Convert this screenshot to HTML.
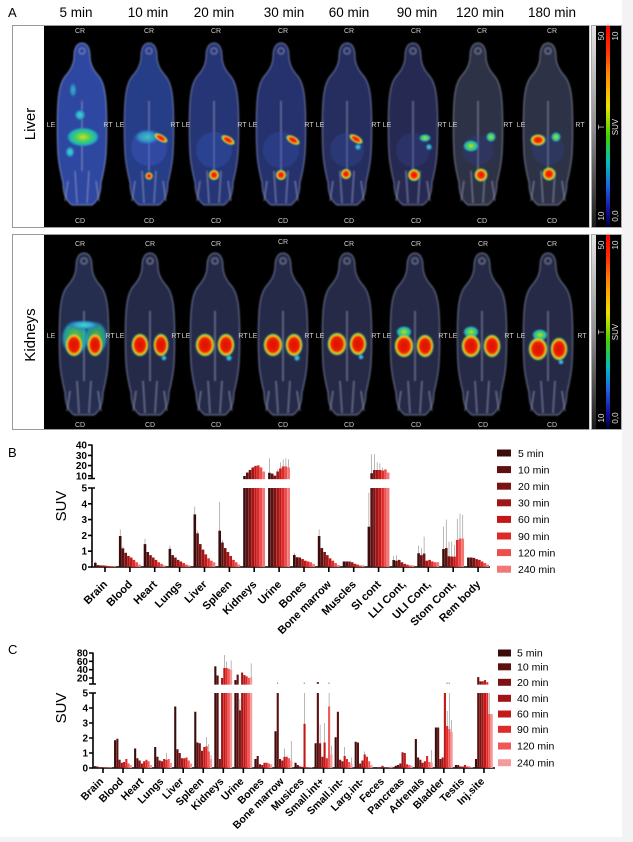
<!DOCTYPE html>
<html><head><meta charset="utf-8"><style>
html,body{margin:0;padding:0;background:#fff}
svg{display:block}
.c0{fill:#3a0c0c}.c1{fill:#5e1010}.c2{fill:#7c1212}.c3{fill:#a01515}.c4{fill:#c41818}.c5{fill:#df2a2a}.c6{fill:#ec4e4e}.c7{fill:#f27878}
.d0{fill:#3a0c0c}.d1{fill:#5e1010}.d2{fill:#7c1212}.d3{fill:#a01515}.d4{fill:#c41818}.d5{fill:#df2a2a}.d6{fill:#ee5858}.d7{fill:#f59a9a}
.e{fill:#8a8a8a}
.lb{font-size:7px;fill:#cfcfcf;text-anchor:middle}
.tk{font-size:10px;font-weight:bold;text-anchor:end}
.xl{font-size:11px;font-weight:bold;text-anchor:end}
.xc{font-size:10.5px;font-weight:bold;text-anchor:end}
.lg{font-size:10.5px}
.cb{font-size:8px;fill:#e0e0e0;text-anchor:middle}
</style></head><body>
<svg width="633" height="842" viewBox="0 0 633 842" xmlns="http://www.w3.org/2000/svg" font-family="Liberation Sans, Arial, sans-serif">
<defs>
<path id="m" d="M0,0 C5,0 8,5 8,13 C8,19 10,25 15,31 C21,37 23,46 24,58 C25,72 25,96 24,112 C23,124 21,132 19,140 C19,150 16,158 10,162 L-10,162 C-16,158 -19,150 -19,140 C-21,132 -23,124 -24,112 C-25,96 -25,72 -24,58 C-23,46 -21,37 -15,31 C-10,25 -8,19 -8,13 C-8,5 -5,0 0,0Z"/>
<g id="bn" fill="none" stroke="#a8aed0" stroke-width="1.3" opacity=".5"><path d="M-7,128 L-5,160 M7,128 L5,160 M0,58 L0,128 M-14,138 L-17,158 M14,138 L17,158 M-3,8 a3,3 0 1,0 6,0 a3,3 0 1,0 -6,0"/></g>
<filter id="b1" x="-20%" y="-20%" width="140%" height="140%"><feGaussianBlur stdDeviation="0.9"/></filter>
<filter id="b2" x="-50%" y="-50%" width="200%" height="200%"><feGaussianBlur stdDeviation="0.7"/></filter>
<radialGradient id="hot"><stop offset="0" stop-color="#e81400"/><stop offset=".5" stop-color="#ff2a00"/><stop offset=".68" stop-color="#ffc000"/><stop offset=".84" stop-color="#70e050"/><stop offset="1" stop-color="#2090c0" stop-opacity="0"/></radialGradient>
<radialGradient id="hotK"><stop offset="0" stop-color="#d81200"/><stop offset=".62" stop-color="#f02000"/><stop offset=".74" stop-color="#ffb000"/><stop offset=".86" stop-color="#90e040"/><stop offset="1" stop-color="#2070c0" stop-opacity="0"/></radialGradient>
<radialGradient id="grn"><stop offset="0" stop-color="#d0e020"/><stop offset=".45" stop-color="#40d060"/><stop offset=".8" stop-color="#20b0c0"/><stop offset="1" stop-color="#2060c0" stop-opacity="0"/></radialGradient>
<radialGradient id="cy"><stop offset="0" stop-color="#40e0c0"/><stop offset=".6" stop-color="#30a0d0"/><stop offset="1" stop-color="#2050c0" stop-opacity="0"/></radialGradient>
<linearGradient id="gr" x1="0" y1="0" x2="0" y2="1"><stop offset="0" stop-color="#e6e6e6"/><stop offset=".5" stop-color="#909090"/><stop offset="1" stop-color="#1a1a1a"/></linearGradient>
<linearGradient id="suv" x1="0" y1="0" x2="0" y2="1"><stop offset="0" stop-color="#ff0000"/><stop offset=".12" stop-color="#ff3000"/><stop offset=".25" stop-color="#ff9000"/><stop offset=".4" stop-color="#f0e000"/><stop offset=".55" stop-color="#40d000"/><stop offset=".68" stop-color="#00c0c0"/><stop offset=".8" stop-color="#2060e0"/><stop offset=".92" stop-color="#1010a0"/><stop offset="1" stop-color="#000030"/></linearGradient>
</defs>
<rect width="633" height="842" fill="#fff"/>
<rect x="622" y="0" width="11" height="842" fill="#f3f3f3"/>
<rect x="0" y="837" width="633" height="5" fill="#f3f3f3"/>

<!-- Panel A header -->
<text x="8" y="17" font-size="13">A</text>
<g font-size="13.5" text-anchor="middle">
<text x="76" y="17">5 min</text><text x="148" y="17">10 min</text><text x="214" y="17">20 min</text><text x="284" y="17">30 min</text><text x="349" y="17">60 min</text><text x="417" y="17">90 min</text><text x="480" y="17">120 min</text><text x="552" y="17">180 min</text>
</g>

<!-- Liver box -->
<rect x="12.5" y="25.5" width="576.5" height="202" fill="#fff" stroke="#999"/>
<rect x="44" y="26" width="545" height="201" fill="#000"/>
<text transform="translate(35,124) rotate(-90)" text-anchor="middle" font-size="15">Liver</text>
<g filter="url(#b1)">
<use href="#m" x="82" y="43" fill="#2f46a0" stroke="#90a0e0" stroke-width="1.4" stroke-opacity=".55"/>
<use href="#m" x="149" y="43" fill="#283c88" stroke="#8a96d0" stroke-width="1.4" stroke-opacity=".5"/>
<use href="#m" x="214" y="43" fill="#263676" stroke="#8a96d0" stroke-width="1.4" stroke-opacity=".5"/>
<use href="#m" x="281" y="43" fill="#25336e" stroke="#8a96d0" stroke-width="1.4" stroke-opacity=".5"/>
<use href="#m" x="347" y="43" fill="#252e60" stroke="#8a96c8" stroke-width="1.4" stroke-opacity=".5"/>
<use href="#m" x="413" y="43" fill="#272b52" stroke="#8a90b8" stroke-width="1.4" stroke-opacity=".5"/>
<use href="#m" x="478" y="43" fill="#2d3046" stroke="#9096b0" stroke-width="1.4" stroke-opacity=".5"/>
<use href="#m" x="548" y="43" fill="#2f3246" stroke="#9096b0" stroke-width="1.4" stroke-opacity=".5"/>
<use href="#bn" x="82" y="43"/><use href="#bn" x="149" y="43"/><use href="#bn" x="214" y="43"/><use href="#bn" x="281" y="43"/>
<use href="#bn" x="347" y="43"/><use href="#bn" x="413" y="43"/><use href="#bn" x="478" y="43"/><use href="#bn" x="548" y="43"/>
<ellipse cx="149" cy="148" rx="18" ry="18" fill="#3d60c8" opacity=".4"/>
<ellipse cx="214" cy="150" rx="18" ry="18" fill="#3a58c0" opacity=".35"/>
<ellipse cx="281" cy="150" rx="18" ry="18" fill="#3855b8" opacity=".3"/>
<ellipse cx="347" cy="150" rx="17" ry="17" fill="#3550b0" opacity=".28"/>
<ellipse cx="413" cy="150" rx="17" ry="17" fill="#3048a8" opacity=".25"/>
<ellipse cx="478" cy="150" rx="16" ry="15" fill="#3048a8" opacity=".25"/>
<ellipse cx="548" cy="150" rx="16" ry="15" fill="#3048a8" opacity=".25"/>
</g>
<g filter="url(#b2)">
<ellipse cx="83" cy="137" rx="17" ry="10" fill="url(#grn)"/>
<ellipse cx="70" cy="152" rx="5" ry="6" fill="url(#cy)"/>
<ellipse cx="80" cy="115" rx="6" ry="6" fill="url(#cy)"/>
<ellipse cx="73" cy="90" rx="4" ry="8" fill="url(#cy)" opacity=".7"/>
<ellipse cx="147" cy="137" rx="14" ry="8" fill="url(#cy)" opacity=".8"/>
<ellipse cx="161" cy="138" rx="8" ry="3.6" fill="url(#hot)" transform="rotate(30 161 138)"/>
<circle cx="149" cy="176" r="4" fill="url(#hot)"/>
<ellipse cx="228" cy="140" rx="8" ry="4" fill="url(#hot)" transform="rotate(30 228 140)"/>
<circle cx="214" cy="175" r="5.5" fill="url(#hot)"/>
<ellipse cx="293" cy="140" rx="8" ry="4" fill="url(#hot)" transform="rotate(30 293 140)"/>
<circle cx="281" cy="175" r="5.5" fill="url(#hot)"/>
<ellipse cx="356" cy="139" rx="8" ry="3.8" fill="url(#hot)" transform="rotate(30 356 139)"/>
<circle cx="358" cy="147" r="3.5" fill="url(#cy)"/>
<circle cx="346" cy="174" r="5.5" fill="url(#hot)"/>
<ellipse cx="425" cy="138" rx="6" ry="4" fill="url(#grn)"/>
<circle cx="429" cy="147" r="3.5" fill="url(#cy)"/>
<circle cx="414" cy="175" r="6.5" fill="url(#hot)"/>
<ellipse cx="471" cy="146" rx="8" ry="6" fill="url(#grn)"/>
<ellipse cx="491" cy="137" rx="5" ry="5" fill="url(#grn)"/>
<circle cx="481" cy="175" r="7" fill="url(#hot)"/>
<ellipse cx="538" cy="140" rx="8" ry="6" fill="url(#hot)"/>
<ellipse cx="556" cy="137" rx="5" ry="5" fill="url(#grn)"/>
<circle cx="549" cy="174" r="7" fill="url(#hot)"/>
</g>
<g class="lb">
<text x="80" y="33">CR</text><text x="149" y="33">CR</text><text x="216" y="33">CR</text><text x="283" y="33">CR</text><text x="349" y="33">CR</text><text x="416" y="33">CR</text><text x="482" y="33">CR</text><text x="552" y="33">CR</text>
<text x="80" y="223">CD</text><text x="149" y="223">CD</text><text x="216" y="223">CD</text><text x="283" y="223">CD</text><text x="349" y="223">CD</text><text x="416" y="223">CD</text><text x="482" y="223">CD</text><text x="552" y="223">CD</text>
<text x="51" y="127">LE</text><text x="108" y="127">RT</text><text x="120" y="127">LE</text><text x="175" y="127">RT</text><text x="186" y="127">LE</text><text x="242" y="127">RT</text><text x="253" y="127">LE</text><text x="309" y="127">RT</text>
<text x="320" y="127">LE</text><text x="376" y="127">RT</text><text x="387" y="127">LE</text><text x="442" y="127">RT</text><text x="453" y="127">LE</text><text x="508" y="127">RT</text><text x="521" y="127">LE</text><text x="580" y="127">RT</text>
</g>

<!-- Liver colorbar -->
<rect x="591.5" y="25.5" width="30" height="202" fill="#000" stroke="#aaa"/>
<rect x="592" y="26" width="4" height="201" fill="url(#gr)"/>
<rect x="606" y="26" width="4" height="201" fill="url(#suv)"/>
<g class="cb">
<text transform="translate(604,36) rotate(-90)">50</text><text transform="translate(604,127) rotate(-90)">T</text><text transform="translate(604,216) rotate(-90)">10</text>
<text transform="translate(618,36) rotate(-90)">10</text><text transform="translate(618,127) rotate(-90)">SUV</text><text transform="translate(618,216) rotate(-90)">0,0</text>
</g>

<!-- Kidney box -->
<rect x="12.5" y="234.5" width="576.5" height="195" fill="#fff" stroke="#999"/>
<rect x="44" y="235" width="545" height="194" fill="#000"/>
<text transform="translate(35,335) rotate(-90)" text-anchor="middle" font-size="15">Kidneys</text>
<g filter="url(#b1)">
<use href="#m" x="84" y="253" fill="#282e50" stroke="#8088b0" stroke-width="1.4" stroke-opacity=".55"/>
<use href="#m" x="150" y="253" fill="#272c4a" stroke="#8088b0" stroke-width="1.4" stroke-opacity=".55"/>
<use href="#m" x="215" y="253" fill="#272c4a" stroke="#8088b0" stroke-width="1.4" stroke-opacity=".55"/>
<use href="#m" x="283" y="253" fill="#272c4a" stroke="#8088b0" stroke-width="1.4" stroke-opacity=".55"/>
<use href="#m" x="347" y="253" fill="#262a46" stroke="#8088a8" stroke-width="1.4" stroke-opacity=".55"/>
<use href="#m" x="415" y="253" fill="#262a46" stroke="#8088a8" stroke-width="1.4" stroke-opacity=".55"/>
<use href="#m" x="482" y="253" fill="#262a46" stroke="#8088a8" stroke-width="1.4" stroke-opacity=".55"/>
<use href="#m" x="548" y="253" fill="#262a46" stroke="#8088a8" stroke-width="1.4" stroke-opacity=".55"/>
<use href="#bn" x="84" y="253"/><use href="#bn" x="150" y="253"/><use href="#bn" x="215" y="253"/><use href="#bn" x="283" y="253"/>
<use href="#bn" x="347" y="253"/><use href="#bn" x="415" y="253"/><use href="#bn" x="482" y="253"/><use href="#bn" x="548" y="253"/>
</g>
<g filter="url(#b2)">
<ellipse cx="75" cy="338" rx="14" ry="18" fill="url(#grn)" opacity=".8"/>
<ellipse cx="96" cy="338" rx="12" ry="17" fill="url(#grn)" opacity=".7"/>
<ellipse cx="84" cy="325" rx="16" ry="5" fill="url(#cy)"/>
<ellipse cx="74" cy="345" rx="9" ry="12" fill="url(#hotK)"/>
<ellipse cx="95" cy="345" rx="8" ry="12" fill="url(#hotK)"/>
<ellipse cx="140" cy="345" rx="9" ry="12" fill="url(#hotK)"/>
<ellipse cx="161" cy="345" rx="8" ry="12" fill="url(#hotK)"/>
<circle cx="164" cy="358" r="3" fill="url(#cy)"/>
<ellipse cx="205" cy="345" rx="10" ry="12" fill="url(#hotK)"/>
<ellipse cx="226" cy="345" rx="9" ry="12" fill="url(#hotK)"/>
<circle cx="229" cy="358" r="3.5" fill="url(#cy)"/>
<ellipse cx="273" cy="345" rx="10" ry="12" fill="url(#hotK)"/>
<ellipse cx="294" cy="345" rx="9" ry="12" fill="url(#hotK)"/>
<circle cx="297" cy="358" r="3.5" fill="url(#cy)"/>
<ellipse cx="337" cy="344" rx="10" ry="12" fill="url(#hotK)"/>
<ellipse cx="358" cy="344" rx="9" ry="12" fill="url(#hotK)"/>
<circle cx="361" cy="357" r="3" fill="url(#cy)"/>
<ellipse cx="404" cy="332" rx="8" ry="6" fill="url(#grn)"/>
<ellipse cx="404" cy="346" rx="10" ry="12" fill="url(#hotK)"/>
<ellipse cx="425" cy="346" rx="9" ry="12" fill="url(#hotK)"/>
<ellipse cx="471" cy="332" rx="8" ry="6" fill="url(#grn)"/>
<ellipse cx="471" cy="346" rx="10" ry="12" fill="url(#hotK)"/>
<ellipse cx="492" cy="346" rx="9" ry="12" fill="url(#hotK)"/>
<ellipse cx="540" cy="335" rx="8" ry="6" fill="url(#grn)"/>
<ellipse cx="538" cy="349" rx="10" ry="12" fill="url(#hotK)"/>
<ellipse cx="559" cy="349" rx="9" ry="12" fill="url(#hotK)"/>
<circle cx="561" cy="362" r="3" fill="url(#cy)"/>
</g>
<g class="lb">
<text x="80" y="246">CR</text><text x="150" y="246">CR</text><text x="216" y="246">CR</text><text x="283" y="244">CR</text><text x="349" y="246">CR</text><text x="416" y="246">CR</text><text x="483" y="246">CR</text><text x="552" y="246">CR</text>
<text x="80" y="427">CD</text><text x="150" y="427">CD</text><text x="216" y="427">CD</text><text x="283" y="427">CD</text><text x="349" y="427">CD</text><text x="416" y="427">CD</text><text x="483" y="427">CD</text><text x="552" y="427">CD</text>
<text x="51" y="338">LE</text><text x="110" y="338">RT</text><text x="120" y="338">LE</text><text x="176" y="338">RT</text><text x="186" y="338">LE</text><text x="243" y="338">RT</text><text x="253" y="338">LE</text><text x="309" y="338">RT</text>
<text x="320" y="338">LE</text><text x="376" y="338">RT</text><text x="387" y="338">LE</text><text x="443" y="338">RT</text><text x="453" y="338">LE</text><text x="509" y="338">RT</text><text x="521" y="338">LE</text><text x="582" y="338">RT</text>
</g>
<!-- Kidney colorbar -->
<rect x="591.5" y="234.5" width="30" height="195" fill="#000" stroke="#aaa"/>
<rect x="592" y="235" width="4" height="194" fill="url(#gr)"/>
<rect x="606" y="235" width="4" height="194" fill="url(#suv)"/>
<g class="cb">
<text transform="translate(604,245) rotate(-90)">50</text><text transform="translate(604,332) rotate(-90)">T</text><text transform="translate(604,418) rotate(-90)">10</text>
<text transform="translate(618,245) rotate(-90)">10</text><text transform="translate(618,332) rotate(-90)">SUV</text><text transform="translate(618,418) rotate(-90)">0,0</text>
</g>

<!-- ================= Panel B ================= -->
<text x="8" y="457" font-size="13">B</text>
<text transform="translate(66,506) rotate(-90)" text-anchor="middle" font-size="15">SUV</text>
<g stroke="#000" stroke-width="1.6" fill="none">
<path d="M92,444.5 V478.5 M88,478.5 H95 M88,445 H92 M88,455.4 H92 M88,465.6 H92 M88,475.8 H92"/>
<path d="M92,487.5 V567 M88,488 H95 M88,503.8 H92 M88,519.6 H92 M88,535.4 H92 M88,551.2 H92 M88,567 H92"/>
<path d="M91,567 H490 M105,567 v5 M129.9,567 v5 M154.7,567 v5 M179.6,567 v5 M204.5,567 v5 M229.4,567 v5 M254.2,567 v5 M279.1,567 v5 M304,567 v5 M328.8,567 v5 M353.7,567 v5 M378.6,567 v5 M403.4,567 v5 M428.3,567 v5 M453.2,567 v5 M478.1,567 v5"/>
</g>
<g class="tk">
<text x="87" y="448.5">40</text><text x="87" y="458.9">30</text><text x="87" y="469.1">20</text><text x="87" y="479.3">10</text>
<text x="87" y="491.5">5</text><text x="87" y="507.3">4</text><text x="87" y="523.1">3</text><text x="87" y="538.9">2</text><text x="87" y="554.7">1</text><text x="87" y="570.5">0</text>
</g>
<!-- B lower bars -->
<g transform="translate(94,567) scale(1,-15.8)"><rect class="c0" width="2.6" height=".27"/><rect class="c1" x="2.75" width="2.6" height=".12"/><rect class="c2" x="5.5" width="2.6" height=".1"/><rect class="c3" x="8.25" width="2.6" height=".1"/><rect class="c4" x="11" width="2.6" height=".08"/><rect class="c5" x="13.75" width="2.6" height=".06"/><rect class="c6" x="16.5" width="2.6" height=".05"/><rect class="c7" x="19.25" width="2.6" height=".05"/><rect class="e" x="1" y=".27" width=".6" height=".08"/></g>
<g transform="translate(118.9,567) scale(1,-15.8)"><rect class="c0" width="2.6" height="1.96"/><rect class="c1" x="2.75" width="2.6" height="1.18"/><rect class="c2" x="5.5" width="2.6" height=".9"/><rect class="c3" x="8.25" width="2.6" height=".7"/><rect class="c4" x="11" width="2.6" height=".6"/><rect class="c5" x="13.75" width="2.6" height=".45"/><rect class="c6" x="16.5" width="2.6" height=".3"/><rect class="c7" x="19.25" width="2.6" height=".15"/><rect class="e" x="1" y="1.96" width=".6" height=".42"/><rect class="e" x="3.75" y="1.18" width=".6" height=".12"/></g>
<g transform="translate(143.7,567) scale(1,-15.8)"><rect class="c0" width="2.6" height="1.45"/><rect class="c1" x="2.75" width="2.6" height=".95"/><rect class="c2" x="5.5" width="2.6" height=".75"/><rect class="c3" x="8.25" width="2.6" height=".6"/><rect class="c4" x="11" width="2.6" height=".45"/><rect class="c5" x="13.75" width="2.6" height=".3"/><rect class="c6" x="16.5" width="2.6" height=".2"/><rect class="c7" x="19.25" width="2.6" height=".1"/><rect class="e" x="1" y="1.45" width=".6" height=".33"/></g>
<g transform="translate(168.6,567) scale(1,-15.8)"><rect class="c0" width="2.6" height="1.15"/><rect class="c1" x="2.75" width="2.6" height=".75"/><rect class="c2" x="5.5" width="2.6" height=".6"/><rect class="c3" x="8.25" width="2.6" height=".45"/><rect class="c4" x="11" width="2.6" height=".35"/><rect class="c5" x="13.75" width="2.6" height=".25"/><rect class="c6" x="16.5" width="2.6" height=".15"/><rect class="c7" x="19.25" width="2.6" height=".1"/><rect class="e" x="1" y="1.15" width=".6" height=".2"/></g>
<g transform="translate(193.5,567) scale(1,-15.8)"><rect class="c0" width="2.6" height="3.33"/><rect class="c1" x="2.75" width="2.6" height="2.13"/><rect class="c2" x="5.5" width="2.6" height="1.45"/><rect class="c3" x="8.25" width="2.6" height="1.1"/><rect class="c4" x="11" width="2.6" height=".8"/><rect class="c5" x="13.75" width="2.6" height=".55"/><rect class="c6" x="16.5" width="2.6" height=".4"/><rect class="c7" x="19.25" width="2.6" height=".3"/><rect class="e" x="1" y="3.33" width=".6" height=".49"/><rect class="e" x="3.75" y="2.13" width=".6" height=".17"/></g>
<g transform="translate(218.4,567) scale(1,-15.8)"><rect class="c0" width="2.6" height="2.3"/><rect class="c1" x="2.75" width="2.6" height="1.55"/><rect class="c2" x="5.5" width="2.6" height="1.2"/><rect class="c3" x="8.25" width="2.6" height=".95"/><rect class="c4" x="11" width="2.6" height=".7"/><rect class="c5" x="13.75" width="2.6" height=".45"/><rect class="c6" x="16.5" width="2.6" height=".3"/><rect class="c7" x="19.25" width="2.6" height=".15"/><rect class="e" x="1" y="2.3" width=".6" height="1.83"/><rect class="e" x="3.75" y="1.55" width=".6" height=".15"/></g>
<g transform="translate(243.2,567) scale(1,-15.8)"><rect class="c0" width="2.6" height="5"/><rect class="c1" x="2.75" width="2.6" height="5"/><rect class="c2" x="5.5" width="2.6" height="5"/><rect class="c3" x="8.25" width="2.6" height="5"/><rect class="c4" x="11" width="2.6" height="5"/><rect class="c5" x="13.75" width="2.6" height="5"/><rect class="c6" x="16.5" width="2.6" height="5"/><rect class="c7" x="19.25" width="2.6" height="5"/></g>
<g transform="translate(268.1,567) scale(1,-15.8)"><rect class="c0" width="2.6" height="5"/><rect class="c1" x="2.75" width="2.6" height="5"/><rect class="c2" x="5.5" width="2.6" height="5"/><rect class="c3" x="8.25" width="2.6" height="5"/><rect class="c4" x="11" width="2.6" height="5"/><rect class="c5" x="13.75" width="2.6" height="5"/><rect class="c6" x="16.5" width="2.6" height="5"/><rect class="c7" x="19.25" width="2.6" height="5"/></g>
<g transform="translate(293,567) scale(1,-15.8)"><rect class="c0" width="2.6" height=".76"/><rect class="c1" x="2.75" width="2.6" height=".62"/><rect class="c2" x="5.5" width="2.6" height=".6"/><rect class="c3" x="8.25" width="2.6" height=".5"/><rect class="c4" x="11" width="2.6" height=".4"/><rect class="c5" x="13.75" width="2.6" height=".35"/><rect class="c6" x="16.5" width="2.6" height=".3"/><rect class="c7" x="19.25" width="2.6" height=".2"/><rect class="e" x="1" y=".76" width=".6" height=".14"/></g>
<g transform="translate(317.8,567) scale(1,-15.8)"><rect class="c0" width="2.6" height="1.96"/><rect class="c1" x="2.75" width="2.6" height="1.2"/><rect class="c2" x="5.5" width="2.6" height=".95"/><rect class="c3" x="8.25" width="2.6" height=".75"/><rect class="c4" x="11" width="2.6" height=".55"/><rect class="c5" x="13.75" width="2.6" height=".4"/><rect class="c6" x="16.5" width="2.6" height=".25"/><rect class="c7" x="19.25" width="2.6" height=".12"/><rect class="e" x="1" y="1.96" width=".6" height=".42"/></g>
<g transform="translate(342.7,567) scale(1,-15.8)"><rect class="c0" width="2.6" height=".35"/><rect class="c1" x="2.75" width="2.6" height=".35"/><rect class="c2" x="5.5" width="2.6" height=".35"/><rect class="c3" x="8.25" width="2.6" height=".3"/><rect class="c4" x="11" width="2.6" height=".2"/><rect class="c5" x="13.75" width="2.6" height=".15"/><rect class="c6" x="16.5" width="2.6" height=".1"/><rect class="c7" x="19.25" width="2.6" height=".1"/></g>
<g transform="translate(367.6,567) scale(1,-15.8)"><rect class="c0" width="2.6" height="2.55"/><rect class="c1" x="2.75" width="2.6" height="5"/><rect class="c2" x="5.5" width="2.6" height="5"/><rect class="c3" x="8.25" width="2.6" height="5"/><rect class="c4" x="11" width="2.6" height="5"/><rect class="c5" x="13.75" width="2.6" height="5"/><rect class="c6" x="16.5" width="2.6" height="5"/><rect class="c7" x="19.25" width="2.6" height="5"/><rect class="e" x="1" y="2.55" width=".6" height="2.15"/></g>
<g transform="translate(392.4,567) scale(1,-15.8)"><rect class="c0" width="2.6" height=".44"/><rect class="c1" x="2.75" width="2.6" height=".4"/><rect class="c2" x="5.5" width="2.6" height=".45"/><rect class="c3" x="8.25" width="2.6" height=".3"/><rect class="c4" x="11" width="2.6" height=".2"/><rect class="c5" x="13.75" width="2.6" height=".15"/><rect class="c6" x="16.5" width="2.6" height=".1"/><rect class="c7" x="19.25" width="2.6" height=".1"/><rect class="e" x="1" y=".44" width=".6" height=".26"/><rect class="e" x="3.75" y=".4" width=".6" height=".35"/></g>
<g transform="translate(417.3,567) scale(1,-15.8)"><rect class="c0" width="2.6" height=".87"/><rect class="c1" x="2.75" width="2.6" height=".75"/><rect class="c2" x="5.5" width="2.6" height=".85"/><rect class="c3" x="8.25" width="2.6" height=".4"/><rect class="c4" x="11" width="2.6" height=".45"/><rect class="c5" x="13.75" width="2.6" height=".35"/><rect class="c6" x="16.5" width="2.6" height=".3"/><rect class="c7" x="19.25" width="2.6" height=".3"/><rect class="e" x="1" y=".87" width=".6" height=".48"/><rect class="e" x="3.75" y=".75" width=".6" height=".45"/><rect class="e" x="6.5" y=".85" width=".6" height="1.07"/></g>
<g transform="translate(442.2,567) scale(1,-15.8)"><rect class="c0" width="2.6" height="1.14"/><rect class="c1" x="2.75" width="2.6" height="1.2"/><rect class="c2" x="5.5" width="2.6" height=".68"/><rect class="c3" x="8.25" width="2.6" height=".66"/><rect class="c4" x="11" width="2.6" height=".66"/><rect class="c5" x="13.75" width="2.6" height="1.71"/><rect class="c6" x="16.5" width="2.6" height="1.8"/><rect class="c7" x="19.25" width="2.6" height="1.8"/><rect class="e" x="1" y="1.14" width=".6" height="1.41"/><rect class="e" x="3.75" y="1.2" width=".6" height="1.8"/><rect class="e" x="6.5" y=".68" width=".6" height=".92"/><rect class="e" x="9.25" y=".66" width=".6" height=".94"/><rect class="e" x="12" y=".66" width=".6" height=".74"/><rect class="e" x="14.75" y="1.71" width=".6" height="1.34"/><rect class="e" x="17.5" y="1.8" width=".6" height="1.58"/><rect class="e" x="20.25" y="1.8" width=".6" height="1.5"/></g>
<g transform="translate(467.1,567) scale(1,-15.8)"><rect class="c0" width="2.6" height=".6"/><rect class="c1" x="2.75" width="2.6" height=".6"/><rect class="c2" x="5.5" width="2.6" height=".58"/><rect class="c3" x="8.25" width="2.6" height=".5"/><rect class="c4" x="11" width="2.6" height=".45"/><rect class="c5" x="13.75" width="2.6" height=".35"/><rect class="c6" x="16.5" width="2.6" height=".25"/><rect class="c7" x="19.25" width="2.6" height=".15"/></g>
<!-- B upper bars -->
<g transform="translate(243.2,485.8) scale(1,-1.02)"><rect class="c0" y="6.5" width="2.6" height="3.1"/><rect class="c1" x="2.75" y="6.5" width="2.6" height="6.5"/><rect class="c2" x="5.5" y="6.5" width="2.6" height="9"/><rect class="c3" x="8.25" y="6.5" width="2.6" height="11.5"/><rect class="c4" x="11" y="6.5" width="2.6" height="13"/><rect class="c5" x="13.75" y="6.5" width="2.6" height="13.5"/><rect class="c6" x="16.5" y="6.5" width="2.6" height="11.5"/><rect class="c7" x="19.25" y="6.5" width="2.6" height="7.5"/></g>
<g transform="translate(268.1,485.8) scale(1,-1.02)"><rect class="c0" y="6.5" width="2.6" height="6.3"/><rect class="c1" x="2.75" y="6.5" width="2.6" height="5.5"/><rect class="c2" x="5.5" y="6.5" width="2.6" height="3.5"/><rect class="c3" x="8.25" y="6.5" width="2.6" height="7.5"/><rect class="c4" x="11" y="6.5" width="2.6" height="10.5"/><rect class="c5" x="13.75" y="6.5" width="2.6" height="12.5"/><rect class="c6" x="16.5" y="6.5" width="2.6" height="12.5"/><rect class="c7" x="19.25" y="6.5" width="2.6" height="11.5"/><rect class="e" x="1" y="12.8" width=".6" height="14.2"/><rect class="e" x="9.25" y="14" width=".6" height="2"/><rect class="e" x="12" y="17" width=".6" height="6"/><rect class="e" x="14.75" y="19" width=".6" height="7"/><rect class="e" x="17.5" y="19" width=".6" height="8"/><rect class="e" x="20.25" y="18" width=".6" height="8"/></g>
<g transform="translate(367.6,485.8) scale(1,-1.02)"><rect class="c1" x="2.75" y="6.5" width="2.6" height="5.9"/><rect class="c2" x="5.5" y="6.5" width="2.6" height="9"/><rect class="c3" x="8.25" y="6.5" width="2.6" height="9"/><rect class="c4" x="11" y="6.5" width="2.6" height="9"/><rect class="c5" x="13.75" y="6.5" width="2.6" height="8.5"/><rect class="c6" x="16.5" y="6.5" width="2.6" height="9.5"/><rect class="c7" x="19.25" y="6.5" width="2.6" height="6.5"/><rect class="e" x="3.75" y="12.4" width=".6" height="18.6"/><rect class="e" x="6.5" y="15.5" width=".6" height="15.5"/><rect class="e" x="9.25" y="15.5" width=".6" height="7.5"/><rect class="e" x="12" y="15.5" width=".6" height="6.5"/><rect class="e" x="14.75" y="15" width=".6" height="3"/></g>
<g class="xl">
<text transform="translate(108,585) rotate(-45)">Brain</text>
<text transform="translate(132.9,585) rotate(-45)">Blood</text>
<text transform="translate(157.7,585) rotate(-45)">Heart</text>
<text transform="translate(182.6,585) rotate(-45)">Lungs</text>
<text transform="translate(207.5,585) rotate(-45)">Liver</text>
<text transform="translate(232.4,585) rotate(-45)">Spleen</text>
<text transform="translate(257.2,585) rotate(-45)">Kidneys</text>
<text transform="translate(282.1,585) rotate(-45)">Urine</text>
<text transform="translate(307,585) rotate(-45)">Bones</text>
<text transform="translate(331.8,585) rotate(-45)">Bone marrow</text>
<text transform="translate(356.7,585) rotate(-45)">Muscles</text>
<text transform="translate(381.6,585) rotate(-45)">SI cont</text>
<text transform="translate(406.4,585) rotate(-45)">LLI Cont,</text>
<text transform="translate(431.3,585) rotate(-45)">ULI Cont,</text>
<text transform="translate(456.2,585) rotate(-45)">Stom Cont,</text>
<text transform="translate(481.1,585) rotate(-45)">Rem body</text>
</g>
<!-- B legend -->
<rect class="c0" x="497" y="449.5" width="14" height="7"/><rect class="c1" x="497" y="466.1" width="14" height="7"/><rect class="c2" x="497" y="482.7" width="14" height="7"/><rect class="c3" x="497" y="499.3" width="14" height="7"/>
<rect class="c4" x="497" y="515.9" width="14" height="7"/><rect class="c5" x="497" y="532.5" width="14" height="7"/><rect class="c6" x="497" y="549.1" width="14" height="7"/><rect class="c7" x="497" y="565.7" width="14" height="7"/>
<g class="lg">
<text x="518" y="456.8">5 min</text><text x="518" y="473.4">10 min</text><text x="518" y="490">20 min</text><text x="518" y="506.6">30 min</text>
<text x="518" y="523.2">60 min</text><text x="518" y="539.8">90 min</text><text x="518" y="556.4">120 min</text><text x="518" y="573">240 min</text>
</g>

<!-- ================= Panel C ================= -->
<text x="8" y="654" font-size="13">C</text>
<text transform="translate(66,708) rotate(-90)" text-anchor="middle" font-size="15">SUV</text>
<g stroke="#000" stroke-width="1.6" fill="none">
<path d="M93,652.5 V684 M89,684 H96 M89,653 H93 M89,661.3 H93 M89,669.7 H93 M89,678 H93"/>
<path d="M93,692.5 V768 M89,693 H96 M89,708 H93 M89,723 H93 M89,738 H93 M89,753 H93 M89,768 H93"/>
<path d="M92,768 H495 M103,768 v5 M123.05,768 v5 M143.1,768 v5 M163.15,768 v5 M183.2,768 v5 M203.25,768 v5 M223.3,768 v5 M243.35,768 v5 M263.4,768 v5 M283.45,768 v5 M303.5,768 v5 M323.55,768 v5 M343.6,768 v5 M363.65,768 v5 M383.7,768 v5 M403.75,768 v5 M423.8,768 v5 M443.85,768 v5 M463.9,768 v5 M483.95,768 v5"/>
</g>
<g class="tk">
<text x="88" y="656.5">80</text><text x="88" y="664.8">60</text><text x="88" y="673.2">40</text><text x="88" y="681.5">20</text>
<text x="88" y="696.5">5</text><text x="88" y="711.5">4</text><text x="88" y="726.5">3</text><text x="88" y="741.5">2</text><text x="88" y="756.5">1</text><text x="88" y="771.5">0</text>
</g>
<!-- C lower bars -->
<g transform="translate(94,768) scale(1,-15)"><rect class="d0" width="2.1" height=".12"/><rect class="d1" x="2.25" width="2.1" height=".1"/><rect class="d2" x="4.5" width="2.1" height=".05"/><rect class="d3" x="6.75" width="2.1" height=".05"/><rect class="d4" x="9" width="2.1" height=".03"/><rect class="d5" x="11.25" width="2.1" height=".03"/><rect class="d6" x="13.5" width="2.1" height=".03"/><rect class="d7" x="15.75" width="2.1" height=".03"/></g>
<g transform="translate(114.05,768) scale(1,-15)"><rect class="d0" width="2.1" height="1.85"/><rect class="d1" x="2.25" width="2.1" height="1.95"/><rect class="d2" x="4.5" width="2.1" height=".55"/><rect class="d3" x="6.75" width="2.1" height=".35"/><rect class="d4" x="9" width="2.1" height=".4"/><rect class="d5" x="11.25" width="2.1" height=".6"/><rect class="d6" x="13.5" width="2.1" height=".3"/><rect class="d7" x="15.75" width="2.1" height=".2"/></g>
<g transform="translate(134.1,768) scale(1,-15)"><rect class="d0" width="2.1" height="1.3"/><rect class="d1" x="2.25" width="2.1" height=".65"/><rect class="d2" x="4.5" width="2.1" height=".5"/><rect class="d3" x="6.75" width="2.1" height=".3"/><rect class="d4" x="9" width="2.1" height=".45"/><rect class="d5" x="11.25" width="2.1" height=".55"/><rect class="d6" x="13.5" width="2.1" height=".45"/><rect class="d7" x="15.75" width="2.1" height=".2"/></g>
<g transform="translate(154.15,768) scale(1,-15)"><rect class="d0" width="2.1" height="1.4"/><rect class="d1" x="2.25" width="2.1" height=".75"/><rect class="d2" x="4.5" width="2.1" height=".5"/><rect class="d3" x="6.75" width="2.1" height=".45"/><rect class="d4" x="9" width="2.1" height=".6"/><rect class="d5" x="11.25" width="2.1" height=".55"/><rect class="d6" x="13.5" width="2.1" height=".6"/><rect class="d7" x="15.75" width="2.1" height=".35"/><rect class="e" x="12" y=".55" width=".6" height=".45"/></g>
<g transform="translate(174.2,768) scale(1,-15)"><rect class="d0" width="2.1" height="4.1"/><rect class="d1" x="2.25" width="2.1" height="1.25"/><rect class="d2" x="4.5" width="2.1" height="1"/><rect class="d3" x="6.75" width="2.1" height=".65"/><rect class="d4" x="9" width="2.1" height=".65"/><rect class="d5" x="11.25" width="2.1" height=".7"/><rect class="d6" x="13.5" width="2.1" height=".5"/><rect class="d7" x="15.75" width="2.1" height=".3"/></g>
<g transform="translate(194.25,768) scale(1,-15)"><rect class="d0" width="2.1" height="3.75"/><rect class="d1" x="2.25" width="2.1" height="1.7"/><rect class="d2" x="4.5" width="2.1" height="1.65"/><rect class="d3" x="6.75" width="2.1" height="1.15"/><rect class="d4" x="9" width="2.1" height="1.4"/><rect class="d5" x="11.25" width="2.1" height="1.45"/><rect class="d6" x="13.5" width="2.1" height="1.1"/><rect class="d7" x="15.75" width="2.1" height=".6"/><rect class="e" x="12" y="1.45" width=".6" height=".6"/><rect class="e" x="14.25" y="1.1" width=".6" height=".5"/><rect class="e" x="16.5" y=".6" width=".6" height=".25"/></g>
<g transform="translate(214.3,768) scale(1,-15)"><rect class="d0" width="2.1" height="5"/><rect class="d1" x="2.25" width="2.1" height="5"/><rect class="d2" x="4.5" width="2.1" height=".6"/><rect class="d3" x="6.75" width="2.1" height="5"/><rect class="d4" x="9" width="2.1" height="5"/><rect class="d5" x="11.25" width="2.1" height="5"/><rect class="d6" x="13.5" width="2.1" height="5"/><rect class="d7" x="15.75" width="2.1" height="5"/></g>
<g transform="translate(234.35,768) scale(1,-15)"><rect class="d0" width="2.1" height="5"/><rect class="d1" x="2.25" width="2.1" height="5"/><rect class="d2" x="4.5" width="2.1" height="3.85"/><rect class="d3" x="6.75" width="2.1" height="5"/><rect class="d4" x="9" width="2.1" height="5"/><rect class="d5" x="11.25" width="2.1" height="5"/><rect class="d6" x="13.5" width="2.1" height="5"/><rect class="d7" x="15.75" width="2.1" height="5"/><rect class="e" x="5.25" y="3.85" width=".6" height=".75"/></g>
<g transform="translate(254.4,768) scale(1,-15)"><rect class="d0" width="2.1" height=".6"/><rect class="d1" x="2.25" width="2.1" height=".8"/><rect class="d2" x="4.5" width="2.1" height=".25"/><rect class="d3" x="6.75" width="2.1" height=".2"/><rect class="d4" x="9" width="2.1" height=".35"/><rect class="d5" x="11.25" width="2.1" height=".35"/><rect class="d6" x="13.5" width="2.1" height=".3"/><rect class="d7" x="15.75" width="2.1" height=".25"/></g>
<g transform="translate(274.45,768) scale(1,-15)"><rect class="d0" width="2.1" height="2.45"/><rect class="d1" x="2.25" width="2.1" height="5"/><rect class="d2" x="4.5" width="2.1" height=".6"/><rect class="d3" x="6.75" width="2.1" height=".5"/><rect class="d4" x="9" width="2.1" height=".75"/><rect class="d5" x="11.25" width="2.1" height=".75"/><rect class="d6" x="13.5" width="2.1" height=".65"/><rect class="d7" x="15.75" width="2.1" height=".5"/><rect class="e" x="9.75" y=".75" width=".6" height=".55"/><rect class="e" x="16.5" y=".5" width=".6" height="1.3"/></g>
<g transform="translate(294.5,768) scale(1,-15)"><rect class="d0" width="2.1" height=".35"/><rect class="d1" x="2.25" width="2.1" height=".2"/><rect class="d2" x="4.5" width="2.1" height=".1"/><rect class="d3" x="6.75" width="2.1" height=".08"/><rect class="d4" x="9" width="2.1" height="2.95"/><rect class="d5" x="11.25" width="2.1" height=".05"/><rect class="d6" x="13.5" width="2.1" height=".05"/><rect class="d7" x="15.75" width="2.1" height=".05"/><rect class="e" x="9.75" y="2.95" width=".6" height="2.05"/></g>
<g transform="translate(314.55,768) scale(1,-15)"><rect class="d0" width="2.1" height="1.65"/><rect class="d1" x="2.25" width="2.1" height="5"/><rect class="d2" x="4.5" width="2.1" height="1.65"/><rect class="d3" x="6.75" width="2.1" height=".75"/><rect class="d4" x="9" width="2.1" height="1.7"/><rect class="d5" x="11.25" width="2.1" height=".65"/><rect class="d6" x="13.5" width="2.1" height="4.1"/><rect class="d7" x="15.75" width="2.1" height=".9"/><rect class="e" x="5.25" y="1.65" width=".6" height="1.25"/><rect class="e" x="9.75" y="1.7" width=".6" height="1.3"/><rect class="e" x="14.25" y="4.1" width=".6" height=".9"/><rect class="e" x="16.5" y=".9" width=".6" height=".6"/></g>
<g transform="translate(334.6,768) scale(1,-15)"><rect class="d0" width="2.1" height="2.05"/><rect class="d1" x="2.25" width="2.1" height="3.75"/><rect class="d2" x="4.5" width="2.1" height=".55"/><rect class="d3" x="6.75" width="2.1" height=".45"/><rect class="d4" x="9" width="2.1" height=".8"/><rect class="d5" x="11.25" width="2.1" height=".6"/><rect class="d6" x="13.5" width="2.1" height=".4"/><rect class="d7" x="15.75" width="2.1" height=".3"/><rect class="e" x="9.75" y=".8" width=".6" height=".6"/><rect class="e" x="16.5" y=".3" width=".6" height=".4"/></g>
<g transform="translate(354.65,768) scale(1,-15)"><rect class="d0" width="2.1" height="1.75"/><rect class="d1" x="2.25" width="2.1" height="1.7"/><rect class="d2" x="4.5" width="2.1" height=".3"/><rect class="d3" x="6.75" width="2.1" height=".5"/><rect class="d4" x="9" width="2.1" height=".9"/><rect class="d5" x="11.25" width="2.1" height=".75"/><rect class="d6" x="13.5" width="2.1" height=".45"/><rect class="d7" x="15.75" width="2.1" height=".2"/><rect class="e" x="9.75" y=".9" width=".6" height=".2"/></g>
<g transform="translate(374.7,768) scale(1,-15)"><rect class="d0" width="2.1" height=".05"/><rect class="d1" x="2.25" width="2.1" height=".02"/><rect class="d2" x="4.5" width="2.1" height=".01"/><rect class="d3" x="6.75" width="2.1" height=".15"/><rect class="d4" x="9" width="2.1" height=".02"/><rect class="d5" x="11.25" width="2.1" height=".02"/><rect class="d6" x="13.5" width="2.1" height=".05"/><rect class="d7" x="15.75" width="2.1" height=".1"/></g>
<g transform="translate(394.75,768) scale(1,-15)"><rect class="d0" width="2.1" height=".15"/><rect class="d1" x="2.25" width="2.1" height=".2"/><rect class="d2" x="4.5" width="2.1" height=".3"/><rect class="d3" x="6.75" width="2.1" height="1.05"/><rect class="d4" x="9" width="2.1" height="1"/><rect class="d5" x="11.25" width="2.1" height=".25"/><rect class="d6" x="13.5" width="2.1" height=".2"/><rect class="d7" x="15.75" width="2.1" height=".15"/></g>
<g transform="translate(414.8,768) scale(1,-15)"><rect class="d0" width="2.1" height="1.93"/><rect class="d1" x="2.25" width="2.1" height=".7"/><rect class="d2" x="4.5" width="2.1" height=".55"/><rect class="d3" x="6.75" width="2.1" height=".35"/><rect class="d4" x="9" width="2.1" height=".45"/><rect class="d5" x="11.25" width="2.1" height=".8"/><rect class="d6" x="13.5" width="2.1" height=".4"/><rect class="d7" x="15.75" width="2.1" height=".35"/><rect class="e" x="16.5" y=".35" width=".6" height=".85"/></g>
<g transform="translate(434.85,768) scale(1,-15)"><rect class="d0" width="2.1" height="2.7"/><rect class="d1" x="2.25" width="2.1" height="2.7"/><rect class="d2" x="4.5" width="2.1" height=".6"/><rect class="d3" x="6.75" width="2.1" height=".7"/><rect class="d4" x="9" width="2.1" height="5"/><rect class="d5" x="11.25" width="2.1" height="2.8"/><rect class="d6" x="13.5" width="2.1" height="2.6"/><rect class="d7" x="15.75" width="2.1" height="2.4"/><rect class="e" x="12" y="2.8" width=".6" height="1"/><rect class="e" x="14.25" y="2.6" width=".6" height="2.4"/><rect class="e" x="16.5" y="2.4" width=".6" height=".8"/></g>
<g transform="translate(454.9,768) scale(1,-15)"><rect class="d0" width="2.1" height=".2"/><rect class="d1" x="2.25" width="2.1" height=".2"/><rect class="d2" x="4.5" width="2.1" height=".1"/><rect class="d3" x="6.75" width="2.1" height=".1"/><rect class="d4" x="9" width="2.1" height=".2"/><rect class="d5" x="11.25" width="2.1" height=".1"/><rect class="d6" x="13.5" width="2.1" height=".1"/><rect class="d7" x="15.75" width="2.1" height=".05"/></g>
<g transform="translate(474.95,768) scale(1,-15)"><rect class="d0" width="2.1" height=".6"/><rect class="d1" x="2.25" width="2.1" height="5"/><rect class="d2" x="4.5" width="2.1" height="5"/><rect class="d3" x="6.75" width="2.1" height="5"/><rect class="d4" x="9" width="2.1" height="5"/><rect class="d5" x="11.25" width="2.1" height="5"/><rect class="d6" x="13.5" width="2.1" height="3.6"/><rect class="d7" x="15.75" width="2.1" height="3.6"/><rect class="e" x="14.25" y="3.6" width=".6" height="1.4"/></g>
<!-- C upper bars -->
<g transform="translate(214.3,686.3) scale(1,-.4167)"><rect class="d0" y="4" width="2.1" height="44"/><rect class="d1" x="2.25" y="4" width="2.1" height="22"/><rect class="d3" x="6.75" y="4" width="2.1" height="16"/><rect class="d4" x="9" y="4" width="2.1" height="40"/><rect class="d5" x="11.25" y="4" width="2.1" height="40"/><rect class="d6" x="13.5" y="4" width="2.1" height="38"/><rect class="d7" x="15.75" y="4" width="2.1" height="36"/><rect class="e" x="9.75" y="44" width=".6" height="31"/><rect class="e" x="12" y="44" width=".6" height="16"/><rect class="e" x="16.5" y="40" width=".6" height="22"/></g>
<g transform="translate(234.35,686.3) scale(1,-.4167)"><rect class="d0" y="4" width="2.1" height="11"/><rect class="d1" x="2.25" y="4" width="2.1" height="24"/><rect class="d3" x="6.75" y="4" width="2.1" height="29"/><rect class="d4" x="9" y="4" width="2.1" height="23"/><rect class="d5" x="11.25" y="4" width="2.1" height="20"/><rect class="d6" x="13.5" y="4" width="2.1" height="16"/><rect class="d7" x="15.75" y="4" width="2.1" height="18"/><rect class="e" x="16.5" y="22" width=".6" height="33"/></g>
<g transform="translate(274.45,686.3) scale(1,-.4167)"><rect class="e" x="2.5" y="6" width="1.2" height="3"/></g>
<g transform="translate(294.5,686.3) scale(1,-.4167)"><rect class="e" x="9.2" y="6" width="1.2" height="3"/></g>
<g transform="translate(314.55,686.3) scale(1,-.4167)"><rect class="d1" x="2.25" y="6" width="2.1" height="4"/><rect class="e" x="13.8" y="6" width="1.2" height="3"/></g>
<g transform="translate(434.85,686.3) scale(1,-.4167)"><rect class="e" x="11.6" y="6" width="1.2" height="3"/><rect class="e" x="13.8" y="6" width="1.2" height="3"/></g>
<g transform="translate(474.95,686.3) scale(1,-.4167)"><rect class="d1" x="2.25" y="4" width="2.1" height="18"/><rect class="d2" x="4.5" y="4" width="2.1" height="8"/><rect class="d3" x="6.75" y="4" width="2.1" height="8"/><rect class="d4" x="9" y="4" width="2.1" height="11"/><rect class="d5" x="11.25" y="4" width="2.1" height="6"/></g>
<g class="xc">
<text transform="translate(104,782) rotate(-45)">Brain</text>
<text transform="translate(124.05,782) rotate(-45)">Blood</text>
<text transform="translate(144.1,782) rotate(-45)">Heart</text>
<text transform="translate(164.15,782) rotate(-45)">Lungs</text>
<text transform="translate(184.2,782) rotate(-45)">Liver</text>
<text transform="translate(204.25,782) rotate(-45)">Spleen</text>
<text transform="translate(224.3,782) rotate(-45)">Kidneys</text>
<text transform="translate(244.35,782) rotate(-45)">Urine</text>
<text transform="translate(264.4,782) rotate(-45)">Bones</text>
<text transform="translate(284.45,782) rotate(-45)">Bone marrow</text>
<text transform="translate(304.5,782) rotate(-45)">Musices</text>
<text transform="translate(324.55,782) rotate(-45)">Small.int+</text>
<text transform="translate(344.6,782) rotate(-45)">Small.int-</text>
<text transform="translate(364.65,782) rotate(-45)">Larg.int-</text>
<text transform="translate(384.7,782) rotate(-45)">Feces</text>
<text transform="translate(404.75,782) rotate(-45)">Pancreas</text>
<text transform="translate(424.8,782) rotate(-45)">Adrenals</text>
<text transform="translate(444.85,782) rotate(-45)">Bladder</text>
<text transform="translate(464.9,782) rotate(-45)">Testis</text>
<text transform="translate(484.95,782) rotate(-45)">Inj.site</text>
</g>
<!-- C legend -->
<rect class="d0" x="498" y="649.5" width="13" height="7"/><rect class="d1" x="498" y="663.3" width="13" height="7"/><rect class="d2" x="498" y="678.8" width="13" height="7"/><rect class="d3" x="498" y="694.8" width="13" height="7"/>
<rect class="d4" x="498" y="710.5" width="13" height="7"/><rect class="d5" x="498" y="725.8" width="13" height="7"/><rect class="d6" x="498" y="742.5" width="13" height="7"/><rect class="d7" x="498" y="759.2" width="13" height="7"/>
<g class="lg">
<text x="517" y="656.7">5 min</text><text x="517" y="670.5">10 min</text><text x="517" y="686">20 min</text><text x="517" y="702">40 min</text>
<text x="517" y="717.7">60 min</text><text x="517" y="733">90 min</text><text x="517" y="749.7">120 min</text><text x="517" y="766.4">240 min</text>
</g>
</svg>
</body></html>
